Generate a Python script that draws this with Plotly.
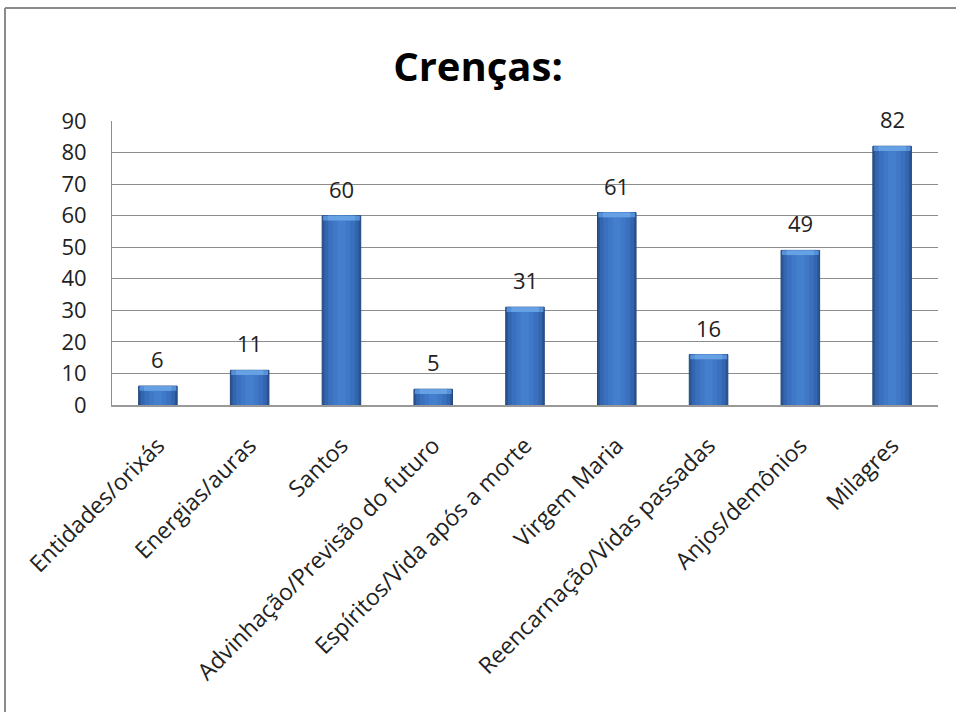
import plotly.graph_objects as go

categories = ["Entidades/orixás", "Energias/auras", "Santos", "Advinhação/Previsão do futuro",
              "Espíritos/Vida após a morte", "Virgem Maria", "Reencarnação/Vidas passadas",
              "Anjos/demônios", "Milagres"]
values = [6, 11, 60, 5, 31, 61, 16, 49, 82]
y_ticks = [0, 10, 20, 30, 40, 50, 60, 70, 80, 90]

FONT = "Open Sans"
BEVEL = 1.5  # visual depth of the bar's top highlight, in axis units

fig = go.Figure()
# cylinder-like shading via overlaid bars of decreasing width
layers = [(0.42, "#2a5593"), (0.37, "#3466af"), (0.29, "#3a70bd"), (0.19, "#3f78c6"), (0.09, "#447fcd")]
for i, (w, c) in enumerate(layers):
    fig.add_trace(go.Bar(
        x=categories, y=values, width=w,
        marker=dict(color=c, line=dict(width=1 if i == 0 else 0, color="#22477f")),
        hoverinfo="skip", showlegend=False,
    ))
# top bevel highlight
for w, c in [(0.40, "#5590d8"), (0.30, "#66a1e4")]:
    fig.add_trace(go.Bar(
        x=categories, y=[BEVEL] * len(values), base=[v - BEVEL for v in values], width=w,
        marker=dict(color=c, line=dict(width=0)), hoverinfo="skip", showlegend=False,
    ))

for cat, v in zip(categories, values):
    fig.add_annotation(x=cat, y=v, text=str(v), showarrow=False, yanchor="middle", yshift=27,
                       font=dict(family=FONT, size=22, color="#222222"))

fig.update_layout(
    width=956, height=712,
    barmode="overlay",
    paper_bgcolor="white", plot_bgcolor="white",
    margin=dict(l=112, r=18, t=121, b=307),
    title=dict(text="<b>Crenças:</b>", x=0.5, xref="container", xanchor="center",
               y=1 - 67 / 712, yref="container", yanchor="middle",
               font=dict(family=FONT, size=40, color="#000000")),
    font=dict(family=FONT, color="#222222"),
)
fig.update_yaxes(range=[0, 90], tickvals=y_ticks, showgrid=True, gridcolor="#8c8c8c", gridwidth=1,
                 showline=True, linecolor="#8c8c8c", linewidth=1, ticks="",
                 ticklabelstandoff=20, tickfont=dict(family=FONT, size=22, color="#222222"),
                 zeroline=False)
fig.update_xaxes(showline=True, linecolor="#999999", linewidth=2, ticks="", tickangle=-45,
                 tickfont=dict(family=FONT, size=23, color="#222222"), ticklabelstandoff=16)

# outer chart frame (top and left edges visible)
fig.add_shape(type="line", xref="paper", yref="paper",
              x0=(5 - 112) / 826, x1=(960 - 112) / 826, y0=(405 - 8) / 284, y1=(405 - 8) / 284,
              line=dict(color="#8a8a8a", width=2))
fig.add_shape(type="line", xref="paper", yref="paper",
              x0=(5 - 112) / 826, x1=(5 - 112) / 826, y0=(405 - 8) / 284, y1=(405 - 720) / 284,
              line=dict(color="#8a8a8a", width=2))

fig.write_html("out.html")
